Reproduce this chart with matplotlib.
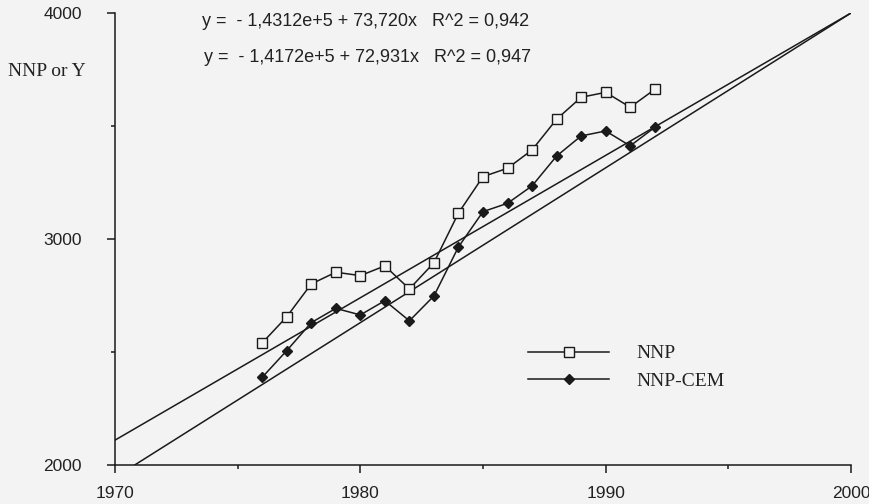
import numpy as np
import matplotlib
matplotlib.use('Agg')
import matplotlib.pyplot as plt
from matplotlib.ticker import MultipleLocator

# data
years = np.arange(1976, 1993)
nnp = [2540, 2656, 2801, 2853, 2838, 2881, 2779, 2895, 3115,
       3276, 3313, 3394, 3530, 3627, 3649, 3583, 3662]
nnp_cem = [2388, 2506, 2630, 2693, 2664, 2727, 2638, 2748, 2965,
           3121, 3158, 3235, 3367, 3456, 3478, 3412, 3494]

# trend lines as drawn (ends of the plotted range)
trend_years = [1970, 2000]
trend_nnp = [2110, 4000]
trend_cem = [1945, 4000]

eq_labels = ["y =  - 1,4312e+5 + 73,720x   R^2 = 0,942",
             "y =  - 1,4172e+5 + 72,931x   R^2 = 0,947"]

bg = '#f3f3f3'
sans = 'Liberation Sans'
serif = 'Liberation Serif'

fig = plt.figure(figsize=(8.69, 5.04), dpi=100, facecolor=bg)
ax = fig.add_axes([115 / 869, 1 - 465 / 504, (851 - 115) / 869, (465 - 13) / 504])
ax.set_facecolor(bg)

ax.plot(trend_years, trend_nnp, color='#1a1a1a', lw=1.1)
ax.plot(trend_years, trend_cem, color='#1a1a1a', lw=1.1)

ax.plot(years, nnp, color='#1a1a1a', lw=1.1, marker='s', ms=7,
        mfc=bg, mec='#1a1a1a', mew=1.0, label='NNP')
ax.plot(years, nnp_cem, color='#1a1a1a', lw=1.1, marker='D', ms=5,
        mfc='#1a1a1a', mec='#1a1a1a', label='NNP-CEM')

ax.set_xlim(1970, 2000)
ax.set_ylim(2000, 4000)
ax.set_xticks([1970, 1980, 1990, 2000])
ax.set_yticks([2000, 3000, 4000])
ax.xaxis.set_minor_locator(MultipleLocator(5))
ax.yaxis.set_minor_locator(MultipleLocator(500))

for s in ['top', 'right']:
    ax.spines[s].set_visible(False)
for s in ['left', 'bottom']:
    ax.spines[s].set_linewidth(1.1)
    ax.spines[s].set_color('#1a1a1a')

ax.tick_params(axis='both', which='major', direction='out', length=6,
               width=1.1, color='#1a1a1a', labelsize=12.5, labelcolor='#222222')
ax.tick_params(axis='both', which='minor', direction='out', length=3,
               width=1.1, color='#1a1a1a')
ax.tick_params(axis='y', which='major', pad=18)
ax.tick_params(axis='x', which='major', pad=9)
for lab in ax.get_xticklabels() + ax.get_yticklabels():
    lab.set_fontfamily(sans)

# regression equations
ax.text(202 / 869, 1 - 22 / 504, eq_labels[0], transform=fig.transFigure,
        fontsize=13, family=sans, color='#222222', va='center', ha='left')
ax.text(204 / 869, 1 - 57 / 504, eq_labels[1], transform=fig.transFigure,
        fontsize=13, family=sans, color='#222222', va='center', ha='left')

fig.text(8 / 869, 1 - 72 / 504, 'NNP or Y', fontsize=14, family=serif,
         color='#222222', va='center', ha='left')

leg = ax.legend(loc='upper left', bbox_to_anchor=(518 / 869, 1 - 335 / 504),
                bbox_transform=fig.transFigure, frameon=False,
                prop={'family': serif, 'size': 14}, handlelength=4.2,
                handletextpad=1.4, labelspacing=0.5, borderpad=0)
for t in leg.get_texts():
    t.set_color('#222222')

fig.savefig('out.png', dpi=100, facecolor=bg)
